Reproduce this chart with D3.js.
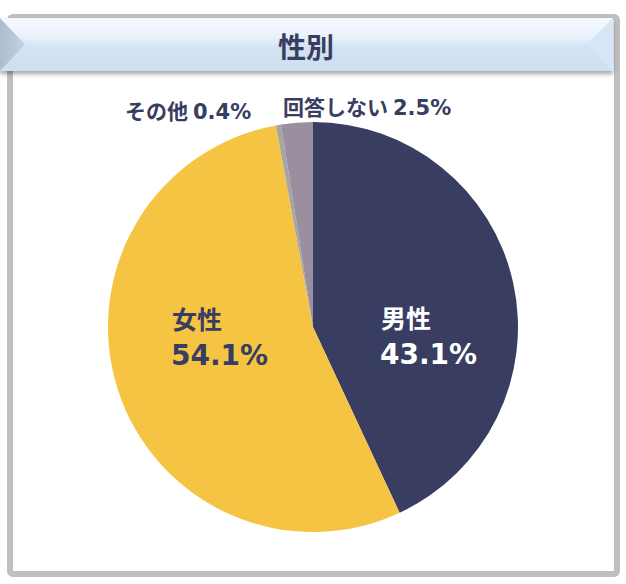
<!DOCTYPE html>
<html><head><meta charset="utf-8">
<script src="https://cdn.jsdelivr.net/npm/d3@7"></script>
<style>
html,body{margin:0;padding:0;background:#fff;}
svg{display:block;}
</style></head>
<body>
<svg id="chart" width="626" height="584"></svg>
<script>
const title = "性別";
const categories = ["男性", "女性", "その他", "回答しない"];
const values = [43.1, 54.1, 0.4, 2.5];
const colors = ["#383d61", "#f4c442", "#a5a5a5", "#9a8f9e"];

const svg = d3.select("#chart");
const defs = svg.append("defs");

// frame border
svg.append("rect").attr("x", 10).attr("y", 17).attr("width", 607).attr("height", 557)
  .attr("rx", 3).attr("fill", "#fff").attr("stroke", "#bfbfbf").attr("stroke-width", 6);

// banner
const bg = defs.append("linearGradient").attr("id", "bannerGrad").attr("x1", 0).attr("y1", 0).attr("x2", 0).attr("y2", 1);
bg.append("stop").attr("offset", "0%").attr("stop-color", "#f6fafe");
bg.append("stop").attr("offset", "35%").attr("stop-color", "#eaf2fb");
bg.append("stop").attr("offset", "55%").attr("stop-color", "#d3e3f3");
bg.append("stop").attr("offset", "100%").attr("stop-color", "#cddff1");
const lg = defs.append("linearGradient").attr("id", "leftGrad").attr("x1", 0).attr("y1", 0).attr("x2", 1).attr("y2", 0);
lg.append("stop").attr("offset", "0%").attr("stop-color", "#aebdd0");
lg.append("stop").attr("offset", "100%").attr("stop-color", "#c3d1e0");
const sh = defs.append("filter").attr("id", "shadow").attr("x", "-5%").attr("y", "-20%").attr("width", "110%").attr("height", "150%");
sh.append("feDropShadow").attr("dx", 0).attr("dy", 3).attr("stdDeviation", 2).attr("flood-color", "#000").attr("flood-opacity", 0.35);

const bx0 = 0, bx1 = 613, by0 = 18, by1 = 71;
const by = (by0 + by1) / 2;
const banner = svg.append("g");
banner.append("rect").attr("x", bx0).attr("y", by0).attr("width", bx1 - bx0).attr("height", by1 - by0)
  .attr("fill", "url(#bannerGrad)").attr("filter", "url(#shadow)");
banner.append("path").attr("d", `M${bx0},${by0} L${bx0 + 25},${by} L${bx0},${by1} Z`).attr("fill", "url(#leftGrad)");
banner.append("path").attr("d", `M${bx1},${by0} L${bx1 - 26},${by} L${bx1},${by1} Z`).attr("fill", "#d6e6f6");
banner.append("text").attr("x", 306).attr("y", by + 1).attr("text-anchor", "middle").attr("dominant-baseline", "central")
  .attr("font-family", "'Noto Sans CJK JP', sans-serif").attr("font-weight", "bold").attr("font-size", 28)
  .attr("fill", "#383d61").text(title);

// pie
const cx = 313, cy = 327, R = 205;
const data = categories.map((c, i) => ({ cat: c, value: values[i], color: colors[i] }));
const pie = d3.pie().value(d => d.value).sort(null);
const arc = d3.arc().innerRadius(0).outerRadius(R);
const arcs = pie(data);
const g = svg.append("g").attr("transform", `translate(${cx},${cy})`);
g.selectAll("path").data(arcs).join("path").attr("d", arc).attr("fill", d => d.data.color);

// labels
const font = "'DejaVu Sans', Verdana, sans-serif";
const cjk = "'Noto Sans CJK JP', sans-serif";
function inner(x, y, cat, val, fill) {
  const t = svg.append("g").attr("fill", fill).attr("font-weight", "bold");
  t.append("text").attr("x", x).attr("y", y).attr("font-family", cjk).attr("font-size", 25).text(cat);
  t.append("text").attr("x", x - 1).attr("y", y + 36).attr("font-family", font).attr("font-size", 28).text(val.toFixed(1) + "%");
}
inner(381, 328, categories[0], values[0], "#ffffff");
inner(172, 329, categories[1], values[1], "#383d61");

function outer(x, y, cat, val) {
  const t = svg.append("text").attr("x", x).attr("y", y).attr("fill", "#383d61").attr("font-weight", "bold");
  t.append("tspan").attr("font-family", cjk).attr("font-size", 21).text(cat);
  t.append("tspan").attr("dx", 5).attr("font-family", font).attr("font-size", 21).text(val.toFixed(1) + "%");
}
outer(125, 119, categories[2], values[2]);
outer(283, 115, categories[3], values[3]);
</script>
</body></html>
